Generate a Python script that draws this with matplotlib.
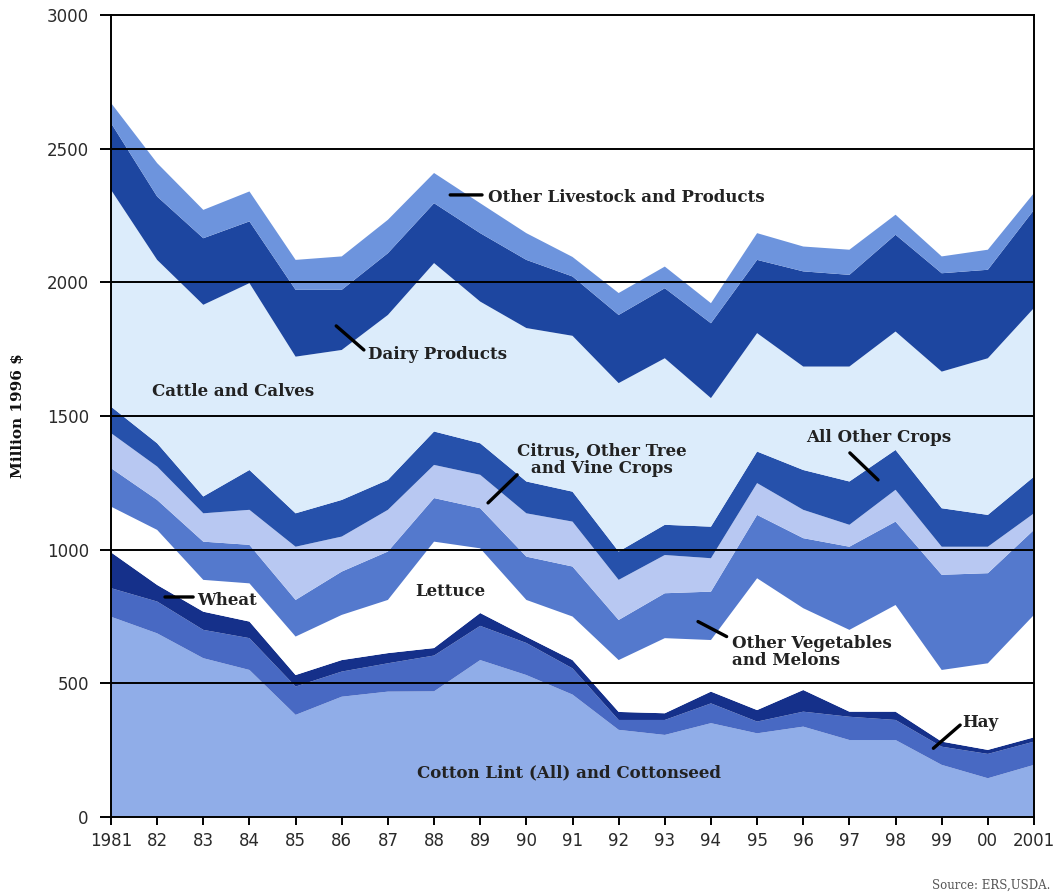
import matplotlib
matplotlib.use("Agg")
import matplotlib.pyplot as plt
import numpy as np

years = list(range(1981, 2002))
year_labels = ["1981", "82", "83", "84", "85", "86", "87", "88", "89", "90",
               "91", "92", "93", "94", "95", "96", "97", "98", "99", "00", "2001"]

# Layer values (million 1996 $), bottom to top
cotton = [749, 687, 594, 550, 382, 450, 469, 470, 587, 531, 458, 326, 307, 351, 313, 338, 288, 288, 195, 145, 195]
hay = [107, 119, 106, 119, 106, 94, 106, 134, 128, 120, 98, 37, 56, 74, 44, 56, 87, 75, 68, 91, 87]
wheat = [134, 62, 68, 62, 43, 43, 38, 28, 48, 23, 31, 30, 25, 44, 43, 81, 19, 31, 19, 15, 16]
lettuce = [171, 206, 119, 143, 144, 169, 199, 398, 242, 138, 163, 194, 281, 193, 493, 306, 306, 399, 268, 324, 458]
other_veg = [144, 112, 143, 144, 137, 162, 181, 163, 150, 162, 187, 150, 168, 181, 237, 262, 311, 312, 356, 337, 318]
citrus = [131, 125, 106, 131, 199, 131, 156, 124, 125, 162, 168, 150, 143, 125, 119, 106, 82, 119, 105, 99, 62]
all_other_crops = [99, 87, 63, 149, 125, 137, 112, 125, 118, 119, 112, 106, 113, 118, 118, 149, 162, 149, 144, 119, 137]
cattle = [811, 686, 717, 699, 586, 561, 617, 630, 530, 574, 583, 630, 623, 481, 443, 387, 430, 443, 511, 586, 631]
dairy = [250, 237, 249, 231, 250, 225, 231, 224, 256, 255, 222, 255, 262, 280, 274, 356, 343, 362, 368, 331, 367]
other_livestock = [75, 125, 106, 112, 112, 125, 125, 113, 112, 100, 73, 82, 81, 75, 100, 93, 94, 75, 63, 75, 63]

layers = [cotton, hay, wheat, lettuce, other_veg, citrus, all_other_crops, cattle, dairy, other_livestock]
colors = ["#90ade8", "#4869c3", "#15308a", "#ffffff", "#5479cd", "#b8c8f2",
          "#2651ab", "#dcecfb", "#1d46a0", "#6d94dd"]

fig = plt.figure(figsize=(10.57, 8.94), dpi=100)
ax = fig.add_axes([111/1057, 1 - 817/894, (1034-111)/1057, (817-15)/894])

ax.stackplot(years, *layers, colors=colors, linewidth=0, zorder=1)

ax.set_xlim(1981, 2001)
ax.set_ylim(0, 3000)
ax.set_xticks(years)
ax.set_xticklabels(year_labels)
ax.set_yticks([0, 500, 1000, 1500, 2000, 2500, 3000])

for v in [500, 1000, 1500, 2000, 2500]:
    ax.axhline(v, color="black", lw=1.4, zorder=3)

for s in ax.spines.values():
    s.set_color("black")
    s.set_linewidth(1.4)
    s.set_zorder(4)

ax.tick_params(axis="both", direction="out", colors="black", width=1.4,
               labelsize=12, labelcolor="#2a2a2a")
ax.tick_params(axis="y", length=8, pad=8)
ax.tick_params(axis="x", length=6, pad=5)

ax.text(-0.101, 0.501, "Million 1996 $", transform=ax.transAxes, rotation=90,
        ha="center", va="center", family="DejaVu Serif", fontweight="bold",
        fontsize=11, color="#111111")

lab = dict(family="DejaVu Serif", fontweight="bold", fontsize=12,
           color="#222222", zorder=5)
lp = dict(arrowstyle="-", color="black", lw=2.4, shrinkA=0, shrinkB=0)

def leader(x0, y0, x1, y1):
    ax.annotate("", xy=(x0, y0), xytext=(x1, y1), arrowprops=lp, zorder=5)

ax.text(1989.17, 2316, "Other Livestock and Products", ha="left", va="center", **lab)
leader(1988.35, 2327, 1989.04, 2327)

ax.text(1986.57, 1729, "Dairy Products", ha="left", va="center", **lab)
leader(1985.88, 1837, 1986.48, 1747)

ax.text(1981.89, 1590, "Cattle and Calves", ha="left", va="center", **lab)

ax.text(1991.64, 1336, "Citrus, Other Tree\nand Vine Crops", ha="center",
        va="center", linespacing=1.0, **lab)
leader(1989.17, 1175, 1989.80, 1280)

ax.text(1996.06, 1418, "All Other Crops", ha="left", va="center", **lab)
leader(1997.01, 1362, 1997.62, 1261)

ax.text(1982.86, 808, "Wheat", ha="left", va="center", **lab)
leader(1982.17, 823, 1982.78, 823)

ax.text(1987.59, 842, "Lettuce", ha="left", va="center", **lab)

ax.text(1994.46, 619, "Other Vegetables\nand Melons", ha="left", va="center",
        linespacing=1.0, **lab)
leader(1993.72, 731, 1994.34, 675)

ax.text(1999.44, 355, "Hay", ha="left", va="center", **lab)
leader(1998.82, 257, 1999.40, 344)

ax.text(1987.63, 165, "Cotton Lint (All) and Cottonseed", ha="left", va="center", **lab)

fig.text(1050/1057, 1 - 885/894, "Source: ERS,USDA.", ha="right", va="center",
         family="DejaVu Serif", fontsize=8.5, color="#555555")

fig.savefig("out.png", dpi=100)
